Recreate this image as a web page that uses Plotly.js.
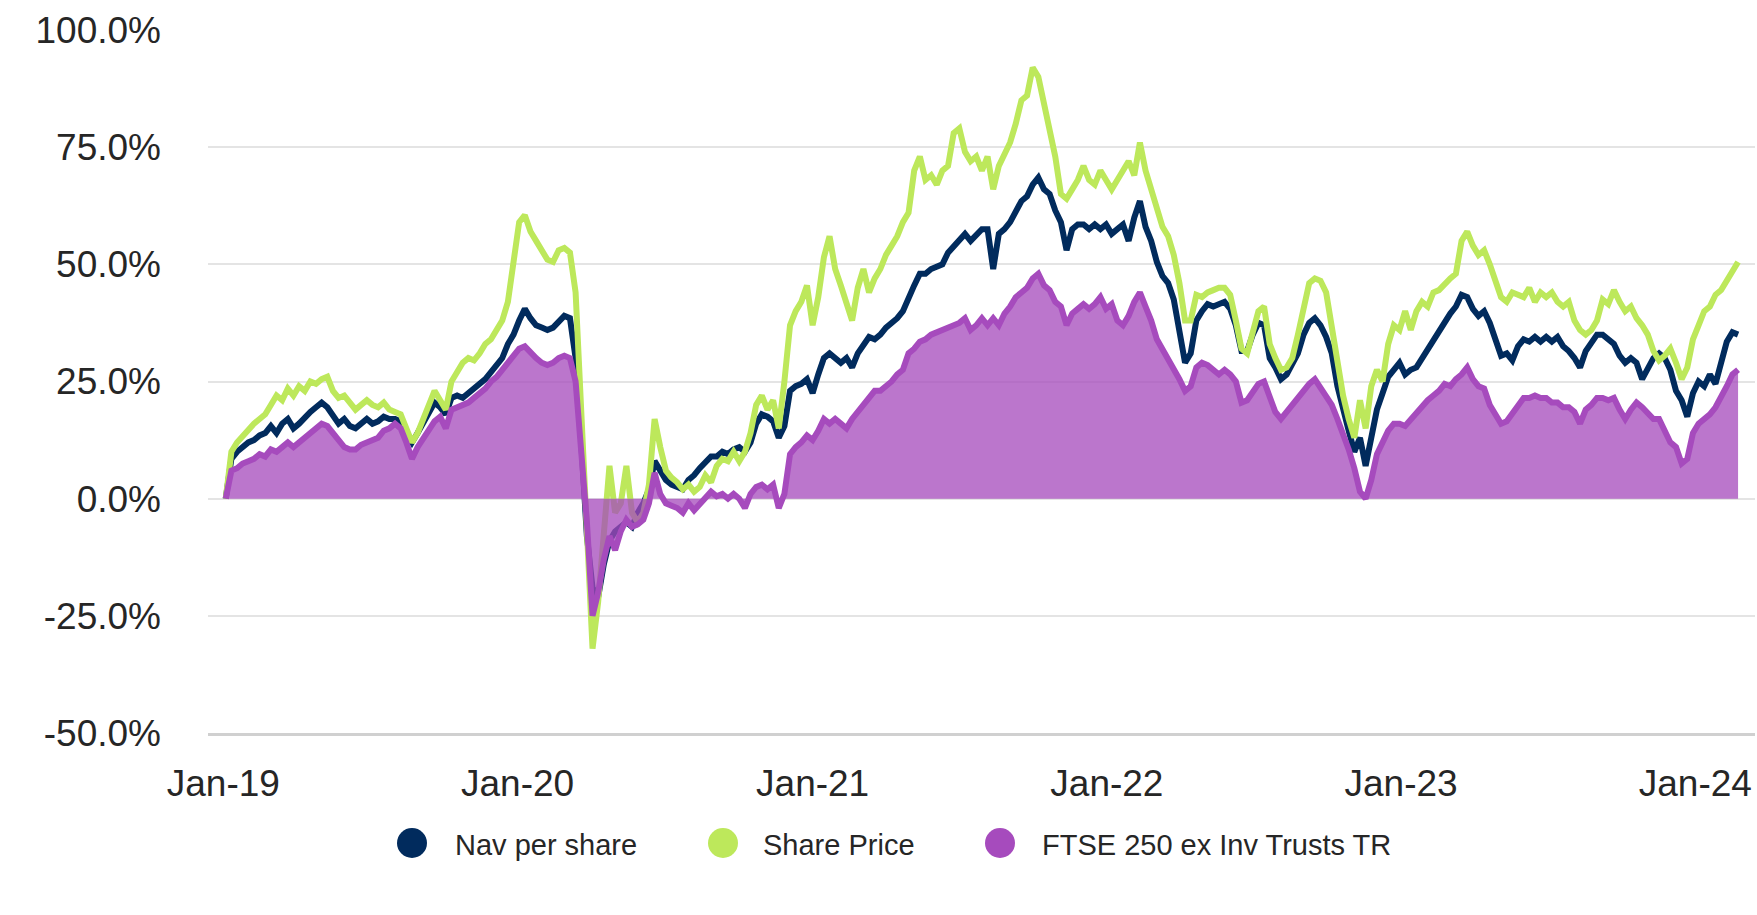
<!DOCTYPE html>
<html>
<head>
<meta charset="utf-8">
<script src="https://cdn.plot.ly/plotly-3.0.1.min.js"></script>
<style>
  html, body { margin: 0; padding: 0; background: #ffffff; }
  #chart { width: 1757px; height: 915px; }
</style>
</head>
<body>
<div id="chart"></div>
<script>
// ---- Data (weekly observations, cumulative total return in %) ----
const firstWeek = '2019-01-04';

const seriesNames = ['Nav per share', 'Share Price', 'FTSE 250 ex Inv Trusts TR'];
const seriesColors = ['#012b5d', '#bde85b', '#a64bbd'];

const navPerShare = [
  0,8.5,10,11,12,12.5,13.5,14,15.5,14,
  16,17,15,16,17.5,18.5,19.5,20.5,19.5,17.5,
  16,17,15.5,15,16,17,16,16.5,17.5,17,
  17,16.5,14,12,14,16,18,20.5,19.5,18,
  21.5,22,21.5,22.5,23.5,24.5,25.5,27,28.5,30,
  33,35,38,40.5,38.5,37,36.5,36,36.5,38,
  39,38.5,30,12,-8,-19,-21,-14,-9,-7,
  -6,-5,-6,-3,-1,2,8,6,4,3,
  2.5,2,4,5,6.5,8,9,9,10,9.5,
  10.5,11,10,12,16,18,17.5,16.5,13,15.5,
  23,24,24.5,25.5,22.5,26.5,30,31,30,29,
  30,28,31,32.5,34.5,34,35,36.5,37.5,38.5,
  40,43,45.5,48,48,49,49.5,50,52.5,54,
  55,56.5,55,56.5,57.5,57.5,49,56.5,57.5,59,
  61.5,63.5,64.5,67,68.5,66,65,61.5,59,53,
  57.5,58.5,58.5,57.5,58.5,57.5,58.5,56.5,57.5,58.5,
  55,60,63.5,58,55,50.5,47.5,46,42.5,36,
  29,31,38,40,41.5,41,41.5,42,40.5,37,
  31.5,31.5,35,37.5,37,30,28,25.5,26.5,28.5,
  31,35,37.5,38.5,37,34.5,31,24,18.5,14.5,
  10,13,7,13.5,19,22.5,26,27.5,29,26.5,
  27.5,28,30,32,34,36,38,39.5,41,43.5,
  43,40.5,39,40,37.5,33.5,30.5,31,29.5,32.5,
  34,33.5,34.5,33.5,34.5,33.5,34.5,32.5,31.5,30,
  28,31.5,33.5,35,35,34,33,30.5,29,30,
  29,25.5,27.5,30,31,30,27.5,23,21,17.5,
  22.5,25,24,26.5,24.5,29,33.5,35.5,35
];

const sharePrice = [
  0,10,12,13.5,15,16,17,18,20,22,
  21,23.5,22,24,23,25,24.5,25.5,26,23,
  21.5,22,20.5,19,20,21,20,19.5,20.5,19,
  18.5,18,15,12,14,17,20,23,21,19,
  25,27,29,30,29.5,31,33,34,36,38,
  42,50,59,60.5,57,55,53,51,50.5,53,
  53.5,52.5,44,20,-8,-32,-22,-6,7,-3,
  -1,7,-3,-5,-3,3,17,11,6,4.5,
  3.5,2,3,1.5,2.5,5,3.5,7,8.5,8,
  10,8,10,14,20,22,19,21,15,25,
  37,40,42,45.5,37,43,51.5,56,49,45.5,
  42,38,45,49,44,47,49,52,54,56,
  59,61,70,73,68,69,67,70,71,78,
  79,74,72,73,70,73,66,71,73.5,76,
  80,85,86,92,90,84,79,73,65,64,
  66,68,71,68,67,70,68,66,68,70,
  72,69,76,70,66,61,58,56,52,46,
  38,38,43.5,43,44,44.5,45,45,43.5,38,
  32,31,35,40,41,33,30,27.5,28,30,
  35,40,46,47,46.5,44,37,29,22,17,
  13,21,15,24,27.5,25,33,37,36,40,
  36,40,42,41,44,44.5,46,47,48,55,
  57,54,52,53,50,46,43,42,44,43.5,
  43,45,42,44,43,44,42,41,42,38,
  36,35,36,38,42.5,41.5,44.5,42,40,41,
  38.5,37,35,31.5,29.5,30.5,32,29,25.5,28,
  34,37,40,41,43.5,44.5,46.5,48.5,50.5
];

const ftse250exIT = [
  0,6,6.5,7.5,8,8.5,9.5,9,10.5,10,
  11,12,11,12,13,14,15,16,15.5,14,
  12,11,10.5,10.5,11.5,12,12.5,13,14.5,15,
  16,15,12,8.5,11,13,14.5,16.5,17.5,15,
  19,19.5,20,20.5,21.5,22.5,23.5,25,26,27.5,
  29,30.5,32,32.5,31,30,29,28.5,29,30,
  30.5,30,25,10,-5,-25,-20,-13,-8,-11,
  -7,-4.5,-6,-5.5,-4.5,-1,5.5,1,-1,-1.5,
  -2,-3,-1,-2.5,-1,0,1.5,0.5,1,0,
  1,0,-2,1,2.5,3,2,3,-2,1,
  9.5,11,12,13.5,12.5,14.5,17,16,17,16,
  15,17,18.5,19.5,21.5,23,23,24,25,26.5,
  27.5,31,32,33.5,34,35,35.5,36,36.5,37.3,
  37.5,38.5,36,37,38.5,37,38.5,37,39.5,41,
  43,44,45,47,48,45.5,44.5,42,41,37,
  39.5,40.5,41.5,40.5,41.5,43,40.5,41.5,38,37,
  39,42,44,41,38,34,32,30,27.5,25.5,
  23,24,28,29,28.5,27.5,26.5,27.5,26.5,25,
  20.5,21,22.5,24.5,25,21.5,18.5,17,18.5,20.5,
  21.5,23,24.5,25.5,23.5,22,20,17,14,10.5,
  6.5,1.5,0,4,9.5,12,14.5,16,16,15.5,
  17,18.5,19.5,21,22,23,24.5,24,25.5,26.5,
  28,25.5,24,23.5,20,18,16,16.5,18,20,
  21.5,21.5,22,21.5,21.5,20.5,20.5,19.5,19.5,18.5,
  16,19,20,21.5,21.5,21,21.5,19,17,19,
  20.5,19.5,18,17,17,14.5,12,11,7.5,8.5,
  14,16,17,18,19.5,21.5,24,26.5,27.5
];

const tickDates  = ['2019-01-01','2020-01-01','2021-01-01','2022-01-01','2023-01-01','2024-01-01'];
const tickLabels = ['Jan-19','Jan-20','Jan-21','Jan-22','Jan-23','Jan-24'];
const yTicks      = [-50, -25, 0, 25, 50, 75, 100];
const yTickLabels = ['-50.0%', '-25.0%', '0.0%', '25.0%', '50.0%', '75.0%', '100.0%'];

// weekly observation dates
const weekDates = [];
(function () {
  const d0 = new Date(firstWeek + 'T00:00:00Z');
  for (let i = 0; i < navPerShare.length; i++) {
    const d = new Date(d0.getTime() + i * 7 * 86400000);
    weekDates.push(d.toISOString().slice(0, 10));
  }
})();

const FONT = 'Liberation Sans, Arial, Helvetica, sans-serif';
const TXT = '#262626';
const LW = 6;

const traces = [
  {
    x: weekDates, y: navPerShare, name: seriesNames[0], type: 'scatter', mode: 'lines',
    line: { color: seriesColors[0], width: LW }, hoverinfo: 'skip'
  },
  {
    x: weekDates, y: sharePrice, name: seriesNames[1], type: 'scatter', mode: 'lines',
    line: { color: seriesColors[1], width: LW }, hoverinfo: 'skip'
  },
  {
    x: weekDates, y: ftse250exIT, name: seriesNames[2], type: 'scatter', mode: 'lines',
    fill: 'tozeroy', fillcolor: 'rgba(165,75,188,0.76)',
    line: { color: seriesColors[2], width: LW }, hoverinfo: 'skip'
  }
];

// custom legend (large circles + labels)
const plotL = 208, plotR = 1755, plotT = 30, plotB = 733;
const pw = plotR - plotL, ph = plotB - plotT;
const legendY = (plotB - 845) / ph;
const legendMarkersPx = [412, 723, 1000];
const legendTextPx = [453, 761, 1040];

const shapes = legendMarkersPx.map((px, i) => ({
  type: 'circle', xref: 'paper', yref: 'paper',
  xsizemode: 'pixel', ysizemode: 'pixel',
  xanchor: (px - plotL) / pw, yanchor: (plotB - 843) / ph,
  x0: -15, x1: 15, y0: -15, y1: 15,
  fillcolor: seriesColors[i], line: { width: 0 }
}));

const annotations = legendTextPx.map((px, i) => ({
  xref: 'paper', yref: 'paper',
  x: (px - plotL) / pw, y: legendY,
  xanchor: 'left', yanchor: 'middle',
  text: seriesNames[i], showarrow: false,
  font: { family: FONT, size: 29, color: TXT }
}));

const layout = {
  width: 1757, height: 915,
  margin: { l: plotL, r: 1757 - plotR, t: plotT, b: 915 - plotB, pad: 0 },
  paper_bgcolor: '#ffffff', plot_bgcolor: '#ffffff',
  showlegend: false,
  font: { family: FONT, color: TXT },
  xaxis: {
    type: 'date',
    range: ['2018-12-13', '2024-03-15'],
    tickmode: 'array', tickvals: tickDates, ticktext: tickLabels,
    showgrid: false, zeroline: false,
    showline: true, linecolor: '#d0d0d0', linewidth: 3,
    ticks: '', ticklabelstandoff: 16,
    tickfont: { family: FONT, size: 37, color: TXT },
    fixedrange: true
  },
  yaxis: {
    range: [-50, 100],
    tickmode: 'array', tickvals: yTicks, ticktext: yTickLabels,
    showgrid: true, gridcolor: '#e4e4e4', gridwidth: 2,
    zeroline: false, showline: false,
    ticks: '', ticklabelstandoff: 46,
    tickfont: { family: FONT, size: 37, color: TXT },
    fixedrange: true
  },
  shapes: shapes,
  annotations: annotations
};

Plotly.newPlot('chart', traces, layout, { displayModeBar: false, staticPlot: true });
</script>
</body>
</html>
